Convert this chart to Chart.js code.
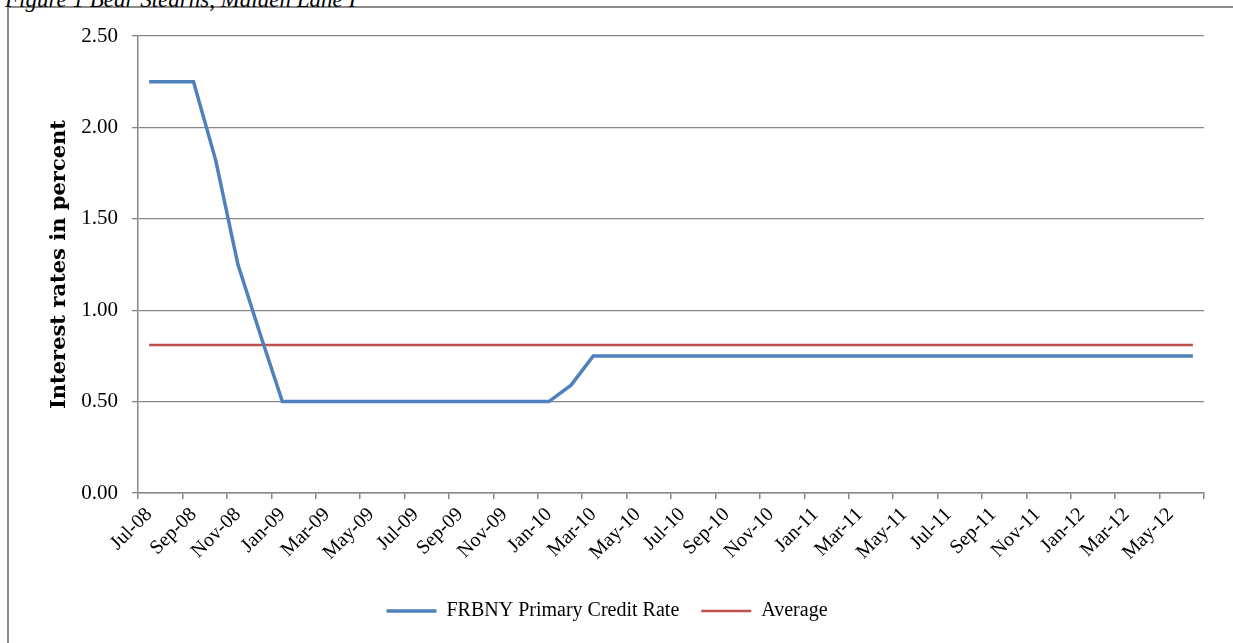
<!DOCTYPE html>
<html>
<head>
<meta charset="utf-8">
<script src="https://cdn.jsdelivr.net/npm/chart.js@4/dist/chart.umd.min.js"></script>
<style>
  html, body { margin: 0; padding: 0; background: #fff; overflow: hidden; }
  #wrap { position: relative; width: 1233px; height: 643px; }
  #frame {
    position: absolute; left: 7px; top: 6px; width: 1400px; height: 800px;
    border-left: 2px solid #8c8c8c; border-top: 2px solid #8c8c8c;
  }
  #caption {
    position: absolute; left: 5px; top: -10px; white-space: nowrap;
    font: italic 23px "Liberation Serif", serif; line-height: 20px; color: #000;
  }
  #chart { position: absolute; left: 0; top: 0; }
</style>
</head>
<body>
<div id="wrap">
  <div id="frame"></div>
  <div id="caption">Figure 1 Bear Stearns, Maiden Lane I</div>
  <canvas id="chart" width="1233" height="643"></canvas>
</div>
<script>
const months = [
  "Jul-08", "Aug-08", "Sep-08", "Oct-08", "Nov-08", "Dec-08",
  "Jan-09", "Feb-09", "Mar-09", "Apr-09", "May-09", "Jun-09",
  "Jul-09", "Aug-09", "Sep-09", "Oct-09", "Nov-09", "Dec-09",
  "Jan-10", "Feb-10", "Mar-10", "Apr-10", "May-10", "Jun-10",
  "Jul-10", "Aug-10", "Sep-10", "Oct-10", "Nov-10", "Dec-10",
  "Jan-11", "Feb-11", "Mar-11", "Apr-11", "May-11", "Jun-11",
  "Jul-11", "Aug-11", "Sep-11", "Oct-11", "Nov-11", "Dec-11",
  "Jan-12", "Feb-12", "Mar-12", "Apr-12", "May-12", "Jun-12",
];

// FRBNY primary credit rate, monthly (percent)
const primaryCredit = [
  2.25, 2.25, 2.25, 1.82, 1.25, 0.87,
  0.50, 0.50, 0.50, 0.50, 0.50, 0.50,
  0.50, 0.50, 0.50, 0.50, 0.50, 0.50,
  0.50, 0.59, 0.75, 0.75, 0.75, 0.75,
  0.75, 0.75, 0.75, 0.75, 0.75, 0.75,
  0.75, 0.75, 0.75, 0.75, 0.75, 0.75,
  0.75, 0.75, 0.75, 0.75, 0.75, 0.75,
  0.75, 0.75, 0.75, 0.75, 0.75, 0.75,
];

const averageRate = 0.81;

const gridGray = "#868686";
const serif = "'Liberation Serif', 'Times New Roman', serif";

new Chart(document.getElementById("chart"), {
  type: "line",
  data: {
    labels: months,
    datasets: [
      {
        label: "FRBNY Primary Credit Rate",
        data: primaryCredit,
        borderColor: "#4f81bd",
        backgroundColor: "#4f81bd",
        borderWidth: 3.5,
        pointRadius: 0,
        tension: 0,
      },
      {
        label: "Average",
        data: months.map(() => averageRate),
        borderColor: "#c0504d",
        backgroundColor: "#c0504d",
        borderWidth: 2.5,
        pointRadius: 0,
        tension: 0,
      },
    ],
  },
  options: {
    responsive: false,
    animation: false,
    layout: { padding: { left: 10, right: 29, top: 36, bottom: 12 } },
    scales: {
      x: {
        type: "category",
        offset: true,
        afterFit: (scale) => { scale.height = 86; },
        grid: {
          offset: true,
          drawOnChartArea: false,
          tickLength: 6,
          lineWidth: 1.5,
          tickColor: (ctx) =>
            ctx.index === undefined || ctx.index % 2 === 0 ? gridGray : "rgba(0,0,0,0)",
        },
        border: { color: gridGray, width: 1.5 },
        ticks: {
          autoSkip: false,
          minRotation: 45,
          maxRotation: 45,
          padding: 4,
          color: "#000",
          font: { family: serif, size: 20 },
          callback: (value, i) => (i % 2 === 0 ? months[i] : ""),
        },
      },
      y: {
        min: 0,
        max: 2.5,
        afterFit: (scale) => { scale.width = 128; },
        grid: { color: gridGray, lineWidth: 1.3, tickLength: 6 },
        border: { color: gridGray, width: 1.5 },
        ticks: {
          stepSize: 0.5,
          padding: 14,
          color: "#000",
          font: { family: serif, size: 21 },
          callback: (v) => Number(v).toFixed(2),
        },
        title: {
          display: true,
          text: "Interest rates in percent",
          color: "#000",
          padding: { top: 37, bottom: 0 },
          font: { family: "'DejaVu Serif', serif", size: 21, weight: "bold" },
        },
      },
    },
    plugins: {
      legend: {
        position: "bottom",
        labels: {
          usePointStyle: true,
          pointStyle: "line",
          pointStyleWidth: 50,
          padding: 22,
          color: "#000",
          font: { family: serif, size: 20 },
        },
      },
      tooltip: { enabled: false },
    },
  },
});
</script>
</body>
</html>
